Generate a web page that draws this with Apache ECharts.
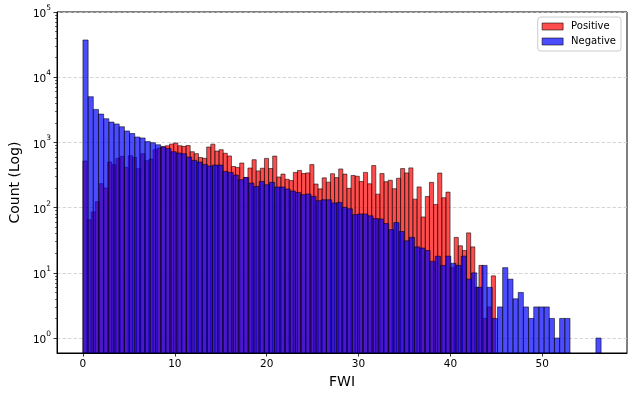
<!DOCTYPE html>
<html>
<head>
<meta charset="utf-8">
<title>FWI histogram</title>
<script src="https://cdn.jsdelivr.net/npm/echarts@6/dist/echarts.min.js"></script>
<style>
  html, body { margin: 0; padding: 0; background: #fff; }
  #chart { width: 634px; height: 398px; }
</style>
</head>
<body>
<div id="chart"></div>
<script>
// Histogram counts, 100 bins per class (each class binned over its own range)
var positiveMax = 44.9;
var negativeMax = 56.4;

var positiveCounts = [
  519, 65, 86, 123, 233, 200, 500, 455, 569, 610,
  414, 625, 589, 395, 671, 525, 555, 775, 820, 868,
  890, 945, 980, 890, 870, 895, 720, 673, 587, 570,
  850, 940, 737, 773, 682, 620, 427, 414, 483, 290,
  405, 543, 366, 402, 569, 398, 617, 295, 327, 272,
  260, 347, 372, 333, 341, 457, 230, 194, 286, 246,
  331, 289, 392, 327, 198, 311, 303, 252, 347, 232,
  442, 161, 333, 250, 263, 195, 282, 397, 341, 407,
  135, 208, 72, 148, 244, 112, 339, 142, 173, 12,
  35, 26, 22, 41, 25, 6, 13, 2, 3, 9
];

var negativeCounts = [
  37200, 5020, 3210, 2720, 2310, 2050, 1920, 1740, 1500, 1370,
  1210, 1170, 1030, 990, 920, 850, 809, 720, 688, 671,
  597, 530, 500, 460, 435, 450, 450, 359, 347, 316,
  268, 290, 238, 211, 252, 224, 244, 207, 207, 193,
  180, 171, 158, 162, 149, 128, 132, 132, 118, 120,
  101, 96, 78, 80, 80, 75, 68, 67, 57, 46,
  59, 43, 31, 35, 25, 24, 22, 15, 18, 13,
  18, 14, 13, 18, 8, 10, 6, 13, 6, 2,
  3, 12, 8, 4, 5, 3, 2, 3, 3, 3,
  2, 1, 2, 2, 0, 0, 0, 0, 0, 1
];

var xTicks = [0, 10, 20, 30, 40, 50];
var yTicks = [1, 10, 100, 1000, 10000, 100000];
var minorSteps = [2, 3, 4, 5, 6, 7, 8, 9];

var FONT = "'DejaVu Sans', sans-serif";

// [binStart, binEnd, count]; empty bins are not drawn
function toBins(counts, maxVal) {
  var w = maxVal / counts.length;
  var out = [];
  counts.forEach(function (c, i) {
    if (c > 0) out.push([i * w, (i + 1) * w, c]);
  });
  return out;
}

var yMinor = [];
yTicks.slice(0, -1).forEach(function (d) {
  minorSteps.forEach(function (m) { yMinor.push(d * m); });
});

function barRenderer(fill) {
  return function (params, api) {
    var topLeft = api.coord([api.value(0), api.value(2)]);
    var topRight = api.coord([api.value(1), api.value(2)]);
    var bottom = params.coordSys.y + params.coordSys.height;
    return {
      type: 'rect',
      shape: {
        x: topLeft[0],
        y: topLeft[1],
        width: topRight[0] - topLeft[0],
        height: bottom - topLeft[1]
      },
      style: { fill: fill, stroke: '#000', lineWidth: 0.8, opacity: 0.7 }
    };
  };
}

function supLabel(v) {
  var e = Math.log10(v);
  var r = Math.round(e);
  if (Math.abs(e - r) > 1e-6) return '';
  return '{b|10}{s|' + r + '}';
}

var chart = echarts.init(document.getElementById('chart'), null, { renderer: 'canvas' });

chart.setOption({
  backgroundColor: '#fff',
  animation: false,
  grid: {
    left: 55, top: 12, width: 572, height: 341,
    show: true, borderColor: '#000', borderWidth: 1, backgroundColor: 'transparent'
  },
  legend: {
    orient: 'vertical',
    right: 13, top: 17,
    padding: [4, 5, 4, 4],
    itemGap: 4,
    itemWidth: 21, itemHeight: 7,
    icon: 'rect',
    backgroundColor: 'rgba(255,255,255,0.8)',
    borderColor: '#cccccc', borderWidth: 1, borderRadius: 3,
    textStyle: { fontFamily: FONT, fontSize: 10, color: '#000', lineHeight: 11, padding: [0, 0, 0, 3] },
    data: [
      { name: 'Positive', itemStyle: { color: 'rgba(255,0,0,0.7)', borderColor: 'rgba(0,0,0,0.7)', borderWidth: 0.8 } },
      { name: 'Negative', itemStyle: { color: 'rgba(0,0,255,0.7)', borderColor: 'rgba(0,0,0,0.7)', borderWidth: 0.8 } }
    ]
  },
  xAxis: {
    type: 'value',
    min: -2.82, max: 59.22,
    name: 'FWI',
    nameLocation: 'middle',
    nameGap: 20,
    nameTextStyle: { fontFamily: FONT, fontSize: 14, color: '#000' },
    axisLine: { show: true, onZero: false, lineStyle: { color: '#000', width: 1 } },
    axisTick: { show: true, inside: false, length: 3.5, customValues: xTicks, lineStyle: { color: '#000', width: 0.8 } },
    axisLabel: { customValues: xTicks, margin: 6, fontFamily: FONT, fontSize: 10.5, color: '#000' },
    splitLine: { show: false }
  },
  yAxis: [
    {
      type: 'log',
      logBase: 10,
      min: 0.59, max: 100000,
      name: 'Count (Log)',
      nameLocation: 'middle',
      nameGap: 35,
      nameTextStyle: { fontFamily: FONT, fontSize: 14, color: '#000' },
      axisLine: { show: true, onZero: false, lineStyle: { color: '#000', width: 1 } },
      axisTick: { show: true, length: 3.5, customValues: yTicks, lineStyle: { color: '#000', width: 0.8 } },
      axisLabel: {
        customValues: yTicks,
        margin: 6,
        formatter: supLabel,
        rich: {
          b: { fontFamily: FONT, fontSize: 10.5, color: '#000', lineHeight: 16, verticalAlign: 'bottom' },
          s: { fontFamily: FONT, fontSize: 7.5, color: '#000', lineHeight: 6, verticalAlign: 'top' }
        }
      },
      splitLine: { show: true, lineStyle: { color: '#cccccc', width: 0.8, type: [3.5, 2] } }
    },
    {
      type: 'log',
      logBase: 10,
      min: 0.59, max: 100000,
      position: 'left',
      axisLine: { show: false, onZero: false },
      axisTick: { show: true, length: 2, customValues: yMinor, lineStyle: { color: '#000', width: 0.6 } },
      axisLabel: { show: false },
      splitLine: { show: false }
    }
  ],
  series: [
    {
      name: 'Positive',
      type: 'custom',
      renderItem: barRenderer('red'),
      itemStyle: { color: 'rgba(255,0,0,0.7)' },
      encode: { x: [0, 1], y: 2 },
      data: toBins(positiveCounts, positiveMax)
    },
    {
      name: 'Negative',
      type: 'custom',
      renderItem: barRenderer('blue'),
      itemStyle: { color: 'rgba(0,0,255,0.7)' },
      encode: { x: [0, 1], y: 2 },
      data: toBins(negativeCounts, negativeMax)
    }
  ]
});
</script>
</body>
</html>
